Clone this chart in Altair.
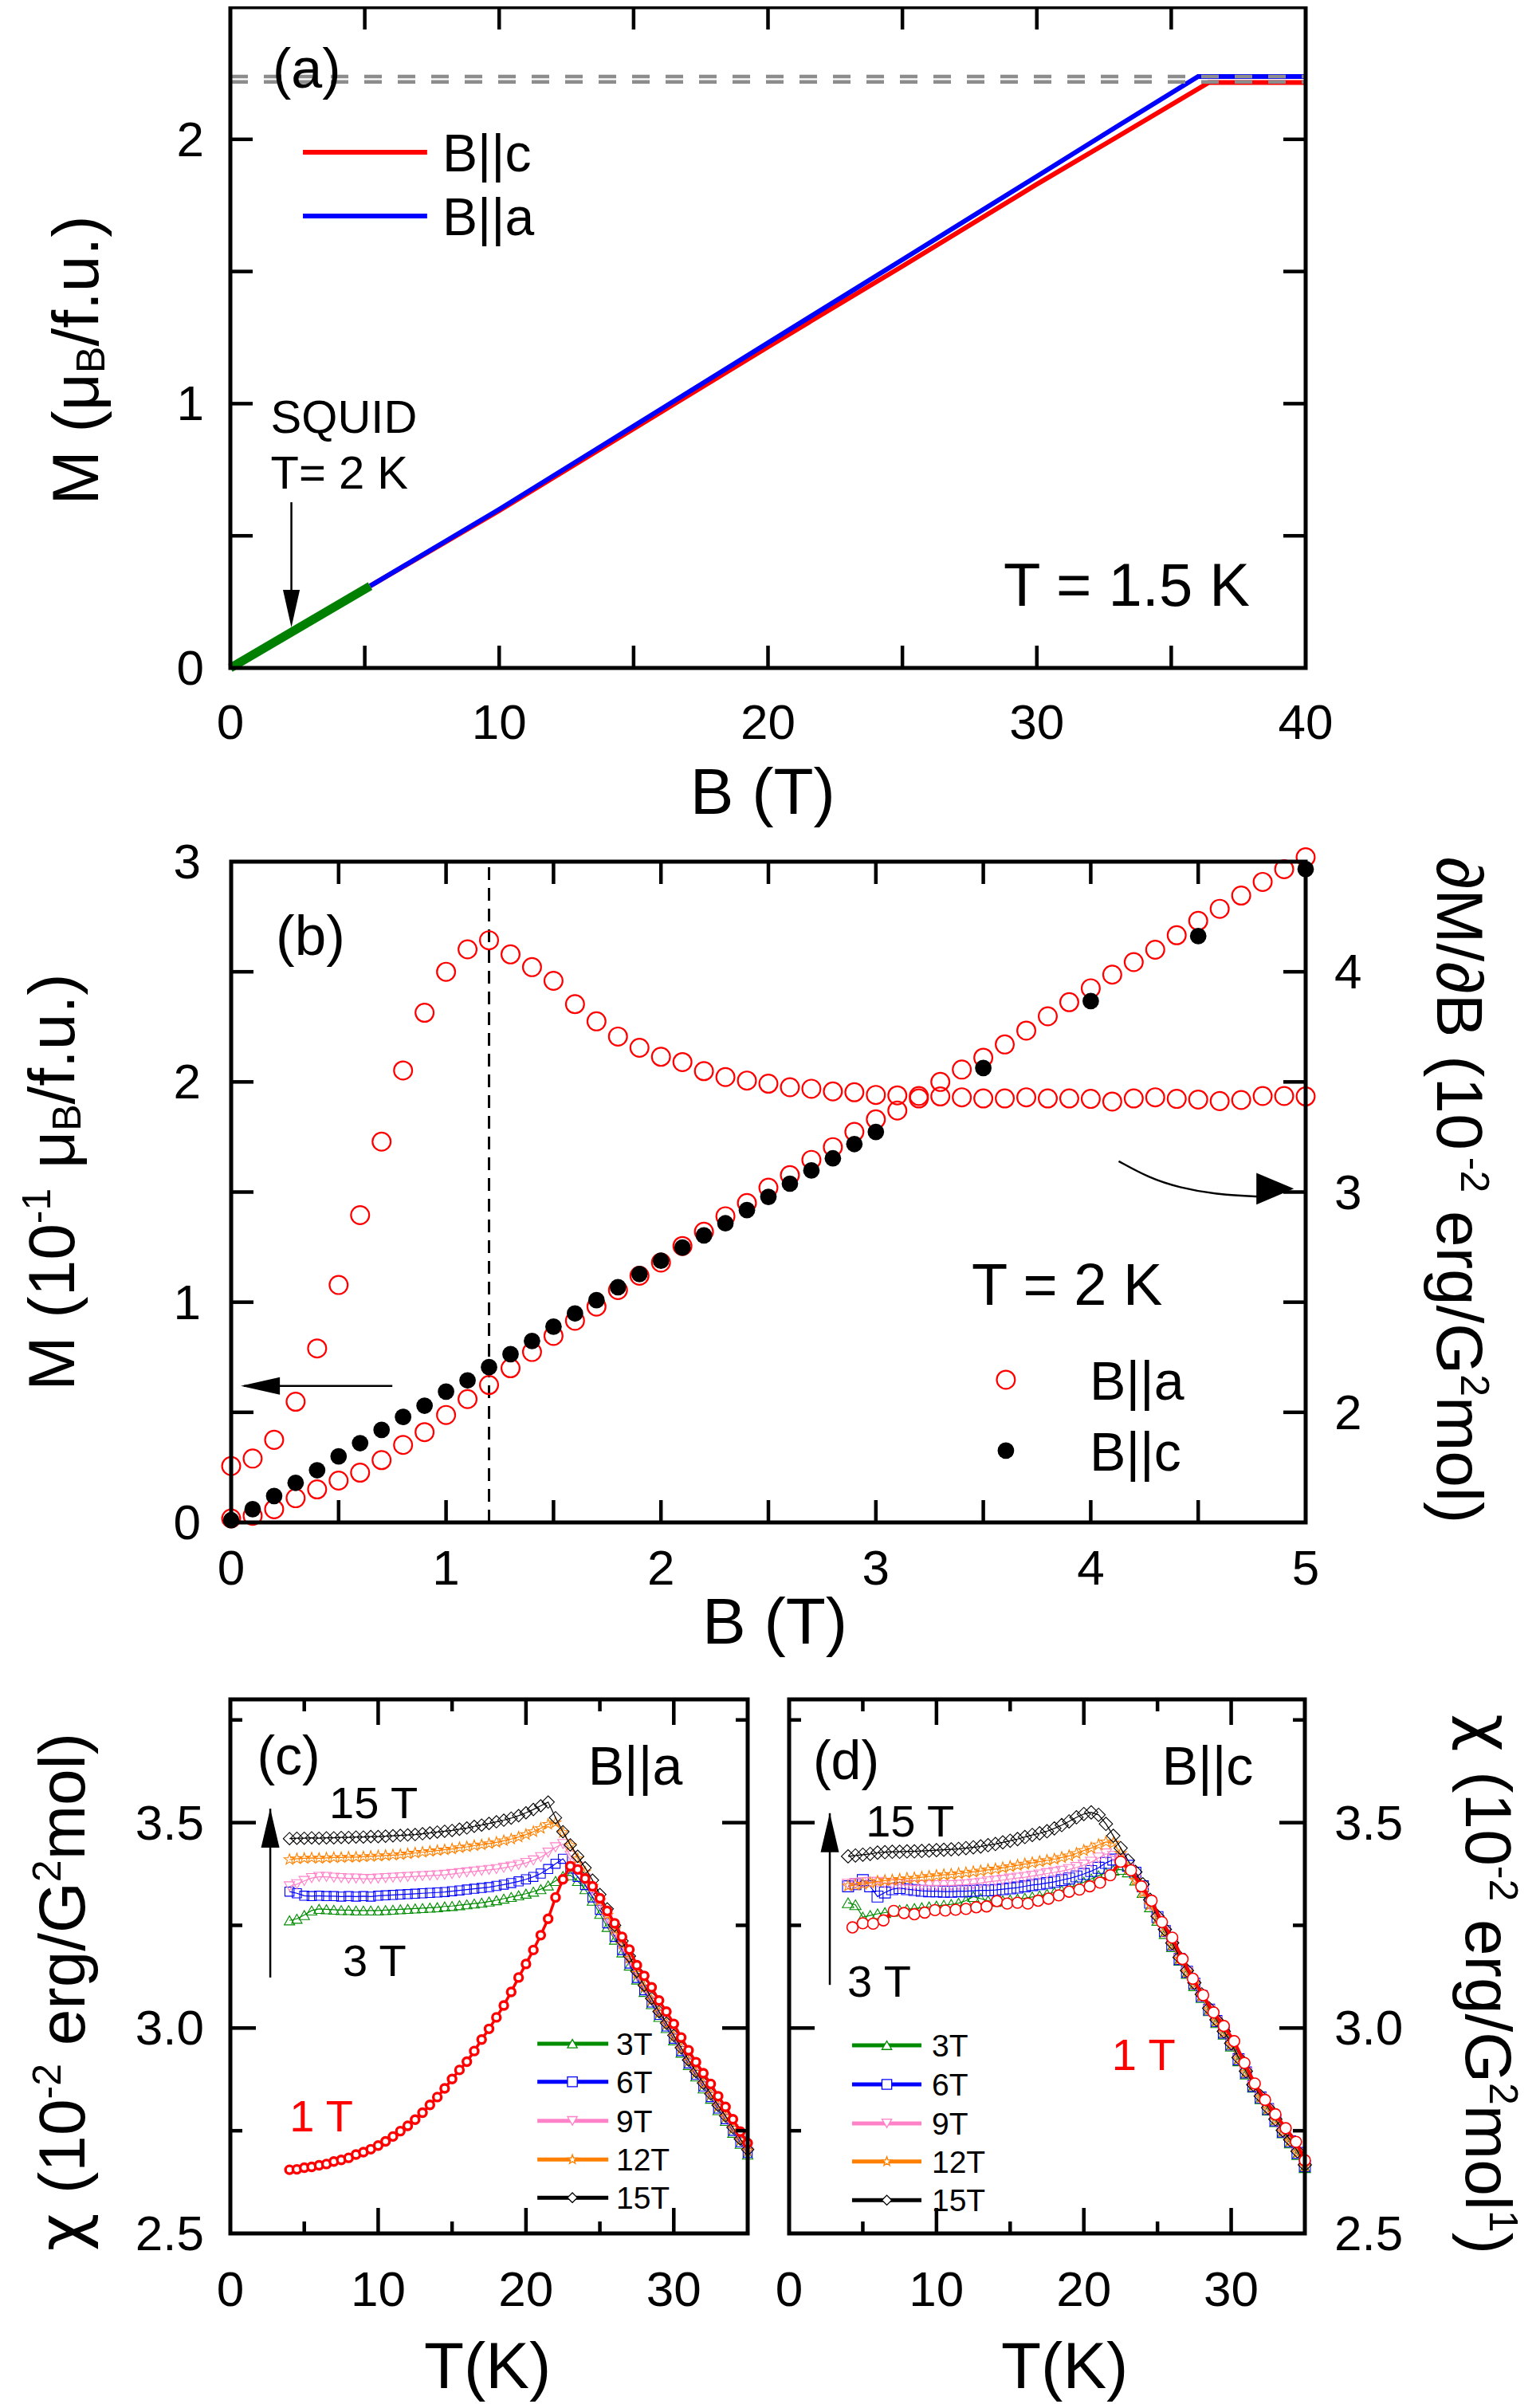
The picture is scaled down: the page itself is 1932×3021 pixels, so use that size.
import altair as alt
import pandas as pd

FONT = "Liberation Sans"

# ---------------- panel (a) data ----------------
A_BC_B = [5.2, 10, 15, 20, 25, 30, 33, 36.4, 40]
A_BC_M = [0.31, 0.595, 0.905, 1.215, 1.52, 1.83, 2.01, 2.215, 2.215]
A_BA_B = [5.2, 10, 15, 20, 25, 30, 33, 36.0, 40]
A_BA_M = [0.31, 0.60, 0.915, 1.23, 1.545, 1.86, 2.05, 2.238, 2.238]
A_SQ_B = [0, 5.2]
A_SQ_M = [0, 0.31]
A_SAT_M = [2.238, 2.217]
A_XTICKS = [5, 10, 15, 20, 25, 30, 35]
A_YTICKS = [0.5, 1, 1.5, 2]
A_XLAB = [0, 10, 20, 30, 40]
A_YLAB = [0, 1, 2]

# ---------------- panel (b) data ----------------
B_A_B = [0.0, 0.1, 0.2, 0.3, 0.4, 0.5, 0.6, 0.7, 0.8, 0.9, 1.0, 1.1, 1.2, 1.3, 1.4, 1.5, 1.6,
         1.7, 1.8, 1.9, 2.0, 2.1, 2.2, 2.3, 2.4, 2.5, 2.6, 2.7, 2.8, 2.9, 3.0, 3.1, 3.2, 3.3,
         3.4, 3.5, 3.6, 3.7, 3.8, 3.9, 4.0, 4.1, 4.2, 4.3, 4.4, 4.5, 4.6, 4.7, 4.8, 4.9, 5.0]
B_A_DMDB = [1.756, 1.79, 1.875, 2.048, 2.29, 2.578, 2.895, 3.229, 3.552, 3.814, 4.0, 4.102,
            4.143, 4.079, 4.021, 3.959, 3.853, 3.775, 3.706, 3.655, 3.614, 3.59, 3.549, 3.522,
            3.506, 3.492, 3.476, 3.469, 3.457, 3.453, 3.441, 3.439, 3.436, 3.434, 3.43, 3.425,
            3.425, 3.43, 3.425, 3.425, 3.423, 3.411, 3.425, 3.43, 3.423, 3.42, 3.413, 3.418,
            3.436, 3.436, 3.434]
B_A_M = [0.018, 0.03, 0.06, 0.11, 0.15, 0.19, 0.226, 0.283, 0.352, 0.41, 0.488, 0.56, 0.624,
         0.70, 0.774, 0.847, 0.916, 0.98, 1.055, 1.12, 1.18, 1.255, 1.32, 1.39, 1.45, 1.52,
         1.577, 1.646, 1.704, 1.773, 1.83, 1.87, 1.925, 2.0, 2.056, 2.11, 2.17, 2.233, 2.298,
         2.362, 2.425, 2.487, 2.544, 2.60, 2.666, 2.731, 2.786, 2.846, 2.908, 2.966, 3.02]
B_C_B = [0.0, 0.1, 0.2, 0.3, 0.4, 0.5, 0.6, 0.7, 0.8, 0.9, 1.0, 1.1, 1.2, 1.3, 1.4, 1.5, 1.6,
         1.7, 1.8, 1.9, 2.0, 2.1, 2.2, 2.3, 2.4, 2.5, 2.6, 2.7, 2.8, 2.9, 3.0, 3.5, 4.0, 4.5, 5.0]
B_C_M = [0.01, 0.06, 0.12, 0.18, 0.237, 0.30, 0.36, 0.42, 0.479, 0.53, 0.594, 0.645, 0.705,
         0.764, 0.824, 0.889, 0.949, 1.009, 1.068, 1.128, 1.188, 1.248, 1.303, 1.358, 1.418,
         1.478, 1.538, 1.598, 1.653, 1.718, 1.773, 2.063, 2.367, 2.662, 2.966]
B_XTICKS = [0.5, 1, 1.5, 2, 2.5, 3, 3.5, 4, 4.5]
B_YTICKS = [0.5, 1, 1.5, 2, 2.5]
B_RTICKS = [2, 2.5, 3, 3.5, 4]
B_XLAB = [0, 1, 2, 3, 4, 5]
B_YLAB = [0, 1, 2, 3]
B_RLAB = [2, 3, 4]

# ---------------- panels (c), (d) data ----------------
T_GRID = [4.0, 4.5, 5.0, 5.5, 6.0, 6.5, 7.0, 7.5, 8.0, 8.5, 9.0, 9.5, 10.0, 10.5, 11.0, 11.5,
          12.0, 12.5, 13.0, 13.5, 14.0, 14.5, 15.0, 15.5, 16.0, 16.5, 17.0, 17.5, 18.0, 18.5,
          19.0, 19.5, 20.0, 20.5, 21.0, 21.5, 22.0, 22.5, 23.0, 23.5, 24.0, 24.5, 25.0, 25.5,
          26.0, 26.5, 27.0, 27.5, 28.0, 28.5, 29.0, 29.5, 30.0, 30.5, 31.0, 31.5, 32.0, 32.5,
          33.0, 33.5, 34.0, 34.5, 35.0]

C_3T = [3.262,
        3.266, 3.275, 3.286, 3.290, 3.289, 3.288, 3.287, 3.287, 3.286, 3.286,
        3.286, 3.286, 3.287, 3.288, 3.289, 3.290, 3.291, 3.292, 3.293, 3.294,
        3.296, 3.297, 3.299, 3.301, 3.303, 3.305, 3.308, 3.311, 3.315, 3.319,
        3.323, 3.327, 3.332, 3.338, 3.347, 3.358, 3.370, 3.372, 3.358, 3.338,
        3.310, 3.278, 3.246, 3.215, 3.184, 3.152, 3.118, 3.088, 3.058, 3.027,
        3.000, 2.970, 2.940, 2.910, 2.882, 2.853, 2.828, 2.800, 2.774, 2.745,
        2.718, 2.692]
C_6T = [3.332,
        3.328, 3.322, 3.321, 3.322, 3.321, 3.321, 3.320, 3.321, 3.320, 3.321,
        3.320, 3.322, 3.323, 3.324, 3.325, 3.326, 3.327, 3.328, 3.329, 3.330,
        3.331, 3.333, 3.335, 3.337, 3.339, 3.341, 3.343, 3.346, 3.349, 3.353,
        3.357, 3.362, 3.368, 3.376, 3.387, 3.400, 3.412, 3.388, 3.368, 3.348,
        3.318, 3.288, 3.255, 3.222, 3.190, 3.157, 3.122, 3.092, 3.062, 3.032,
        3.004, 2.974, 2.944, 2.914, 2.886, 2.858, 2.832, 2.804, 2.778, 2.750,
        2.722, 2.696]
C_9T = [3.345,
        3.350, 3.358, 3.365, 3.368, 3.368, 3.366, 3.365, 3.364, 3.364, 3.363,
        3.363, 3.364, 3.365, 3.366, 3.367, 3.368, 3.369, 3.370, 3.371, 3.372,
        3.373, 3.375, 3.377, 3.379, 3.381, 3.383, 3.385, 3.387, 3.390, 3.393,
        3.397, 3.402, 3.408, 3.416, 3.427, 3.440, 3.448, 3.420, 3.393, 3.364,
        3.333, 3.300, 3.265, 3.230, 3.196, 3.162, 3.127, 3.095, 3.066, 3.035,
        3.008, 2.977, 2.948, 2.917, 2.889, 2.862, 2.835, 2.808, 2.780, 2.754,
        2.725, 2.699]
C_12T = [3.410,
         3.412, 3.413, 3.414, 3.413, 3.414, 3.415, 3.415, 3.416, 3.416, 3.417,
         3.418, 3.419, 3.420, 3.421, 3.422, 3.424, 3.426, 3.428, 3.430, 3.432,
         3.434, 3.436, 3.439, 3.441, 3.444, 3.446, 3.449, 3.452, 3.456, 3.460,
         3.465, 3.471, 3.478, 3.486, 3.496, 3.500, 3.476, 3.445, 3.412, 3.380,
         3.345, 3.310, 3.275, 3.240, 3.205, 3.170, 3.133, 3.100, 3.068, 3.038,
         3.010, 2.980, 2.950, 2.920, 2.892, 2.864, 2.838, 2.810, 2.784, 2.756,
         2.728, 2.702]
C_15T = [3.461,
         3.462, 3.462, 3.463, 3.462, 3.463, 3.463, 3.464, 3.464, 3.465, 3.465,
         3.466, 3.466, 3.467, 3.468, 3.469, 3.470, 3.471, 3.473, 3.475, 3.477,
         3.479, 3.481, 3.484, 3.487, 3.491, 3.494, 3.498, 3.502, 3.506, 3.511,
         3.517, 3.524, 3.532, 3.541, 3.550, 3.512, 3.478, 3.446, 3.418, 3.390,
         3.360, 3.325, 3.290, 3.250, 3.212, 3.175, 3.138, 3.104, 3.072, 3.040,
         3.012, 2.982, 2.952, 2.922, 2.894, 2.866, 2.840, 2.812, 2.786, 2.758,
         2.730, 2.704]
C_1T = [2.655,
        2.656, 2.660, 2.662, 2.666, 2.669, 2.675, 2.679, 2.684, 2.692, 2.698,
        2.705, 2.714, 2.724, 2.736, 2.749, 2.762, 2.777, 2.794, 2.813, 2.832,
        2.853, 2.876, 2.898, 2.918, 2.944, 2.972, 2.998, 3.026, 3.055, 3.088,
        3.123, 3.156, 3.190, 3.226, 3.266, 3.318, 3.362, 3.394, 3.386, 3.364,
        3.345, 3.316, 3.285, 3.255, 3.222, 3.191, 3.153, 3.127, 3.099, 3.067,
        3.040, 3.010, 2.977, 2.946, 2.917, 2.890, 2.864, 2.834, 2.808, 2.778,
        2.748, 2.720]

D_3T = [3.305, 3.300, 3.270, 3.274, 3.278, 3.281, 3.284, 3.287, 3.289, 3.291, 3.293,
        3.295, 3.297, 3.299, 3.301, 3.304, 3.310, 3.320, 3.315, 3.310, 3.308,
        3.310, 3.312, 3.314, 3.316, 3.319, 3.322, 3.326, 3.330, 3.335, 3.341,
        3.348, 3.355, 3.363, 3.371, 3.378, 3.384, 3.386, 3.380, 3.360, 3.330,
        3.295, 3.262, 3.230, 3.198, 3.165, 3.133, 3.103, 3.074, 3.042, 3.013,
        2.985, 2.956, 2.920, 2.888, 2.856, 2.828, 2.800, 2.772, 2.745, 2.720,
        2.692, 2.660]
D_6T = [3.345, 3.350, 3.360, 3.345, 3.320, 3.330, 3.338, 3.341, 3.338, 3.336, 3.334,
        3.333, 3.333, 3.332, 3.332, 3.333, 3.333, 3.334, 3.335, 3.335, 3.336,
        3.338, 3.340, 3.342, 3.345, 3.348, 3.350, 3.353, 3.356, 3.360, 3.364,
        3.369, 3.375, 3.382, 3.390, 3.402, 3.410, 3.410, 3.395, 3.378, 3.345,
        3.305, 3.270, 3.236, 3.203, 3.168, 3.137, 3.108, 3.078, 3.045, 3.017,
        2.989, 2.960, 2.924, 2.892, 2.859, 2.831, 2.803, 2.775, 2.748, 2.724,
        2.696, 2.664]
D_9T = [3.350, 3.352, 3.354, 3.355, 3.355, 3.353, 3.351, 3.349, 3.348, 3.347, 3.347,
        3.347, 3.347, 3.347, 3.347, 3.348, 3.349, 3.351, 3.353, 3.356, 3.358,
        3.360, 3.363, 3.365, 3.367, 3.370, 3.373, 3.376, 3.379, 3.382, 3.386,
        3.391, 3.397, 3.404, 3.414, 3.424, 3.418, 3.410, 3.390, 3.362, 3.332,
        3.298, 3.264, 3.233, 3.201, 3.167, 3.135, 3.106, 3.077, 3.044, 3.016,
        2.988, 2.959, 2.923, 2.891, 2.858, 2.830, 2.802, 2.774, 2.747, 2.723,
        2.695, 2.663]
D_12T = [3.346, 3.348, 3.350, 3.353, 3.357, 3.359, 3.360, 3.362, 3.364, 3.365, 3.367,
         3.369, 3.371, 3.373, 3.374, 3.376, 3.378, 3.380, 3.382, 3.385, 3.387,
         3.390, 3.393, 3.396, 3.399, 3.402, 3.405, 3.408, 3.411, 3.415, 3.419,
         3.425, 3.432, 3.438, 3.446, 3.453, 3.450, 3.425, 3.390, 3.360, 3.330,
         3.300, 3.266, 3.234, 3.202, 3.168, 3.136, 3.107, 3.078, 3.045, 3.017,
         2.989, 2.960, 2.925, 2.892, 2.860, 2.831, 2.803, 2.776, 2.748, 2.725,
         2.697, 2.664]
D_15T = [3.418, 3.420, 3.422, 3.424, 3.427, 3.428, 3.429, 3.429, 3.430, 3.430, 3.431,
         3.432, 3.433, 3.434, 3.435, 3.436, 3.438, 3.440, 3.442, 3.445, 3.448,
         3.452, 3.456, 3.460, 3.465, 3.470, 3.474, 3.479, 3.486, 3.494, 3.503,
         3.513, 3.521, 3.525, 3.519, 3.497, 3.468, 3.438, 3.408, 3.380, 3.350,
         3.312, 3.272, 3.240, 3.207, 3.172, 3.140, 3.110, 3.082, 3.048, 3.020,
         2.992, 2.963, 2.928, 2.895, 2.862, 2.834, 2.806, 2.778, 2.751, 2.728,
         2.700, 2.667]
D_1T_T = [4.3, 5.0, 5.7, 6.4, 7.1, 7.8, 8.5, 9.2, 9.9, 10.6, 11.3, 12.0, 12.7, 13.4, 14.1,
          14.8, 15.5, 16.2, 16.9, 17.6, 18.3, 19.0, 19.7, 20.4, 21.1, 21.8, 22.5, 23.2, 23.9,
          24.6, 25.3, 26.0, 26.7, 27.4, 28.1, 28.8, 29.5, 30.2, 30.9, 31.6, 32.3, 33.0, 33.7,
          34.4, 35.0]
D_1T = [3.245, 3.255, 3.254, 3.262, 3.285, 3.280, 3.277, 3.281, 3.287, 3.286,
        3.288, 3.290, 3.294, 3.296, 3.309, 3.303, 3.305, 3.303, 3.310, 3.315,
        3.323, 3.332, 3.337, 3.345, 3.354, 3.372, 3.405, 3.384, 3.345, 3.310,
        3.258, 3.220, 3.168, 3.120, 3.080, 3.038, 3.005, 2.968, 2.915, 2.865,
        2.825, 2.790, 2.756, 2.723, 2.678]

CD_XMAJ = [10, 20, 30]
CD_XMIN = [5, 15, 25]
CD_YMAJ = [3.0, 3.5]
CD_YMIN = [2.75, 3.25, 3.75]
CD_XLAB = [0, 10, 20, 30]
CD_YLAB = [2.5, 3.0, 3.5]
FIELD_NAMES = ["3T", "6T", "9T", "12T", "15T"]
FIELD_COLORS = ["#008c00", "#0000ff", "#ff82c8", "#ff8000", "#000000"]
STAR = ("M0,-1L0.235,-0.324L0.951,-0.309L0.380,0.124L0.588,0.809L0,0.4L-0.588,0.809"
        "L-0.380,0.124L-0.951,-0.309L-0.235,-0.324Z")
FIELD_SHAPES = ["triangle-up", "square", "triangle-down", STAR, "diamond"]

# ---------------- layout (chart pixel ranges of each panel) ----------------
PAN = {
    "a":  {"xd": [0, 40], "xr": [281, 1630], "yd": [0, 2.5], "yr": [830, 1]},
    "b":  {"xd": [0, 5], "xr": [282, 1630], "yd": [0, 3], "yr": [1902, 1073]},
    "bR": {"xd": [0, 5], "xr": [282, 1630], "yd": [1.5, 4.5], "yr": [1902, 1073]},
    "c":  {"xd": [0, 35], "xr": [281, 930], "yd": [2.5, 3.8], "yr": [2794, 2124]},
    "d":  {"xd": [0, 35], "xr": [982, 1629], "yd": [2.5, 3.8], "yr": [2794, 2124]},
}
TW = 4.5
layers = []


def S(p, ax):
    d = PAN[p]
    return alt.Scale(domain=d[ax + "d"], range=d[ax + "r"], nice=False, zero=False)


def XY(p):
    return {"x": alt.X("x:Q", scale=S(p, "x"), axis=None),
            "y": alt.Y("y:Q", scale=S(p, "y"), axis=None)}


def add_line(p, xs, ys, **kw):
    df = pd.DataFrame({"x": xs, "y": ys, "i": list(range(len(xs)))})
    layers.append(alt.Chart(df).mark_line(**kw).encode(**XY(p), order="i:Q"))


def add_points(p, xs, ys, **kw):
    kw.setdefault("opacity", 1)
    df = pd.DataFrame({"x": xs, "y": ys})
    layers.append(alt.Chart(df).mark_point(**kw).encode(**XY(p)))


def add_text(p, xs, ys, texts, size, **kw):
    kw.setdefault("baseline", "alphabetic")
    kw.setdefault("font", FONT)
    df = pd.DataFrame({"x": xs, "y": ys, "t": texts})
    layers.append(alt.Chart(df).mark_text(fontSize=size, **kw)
                  .encode(**XY(p), text="t:N"))


def add_hrule(p, x1, x2, ys, **kw):
    df = pd.DataFrame({"x": [x1] * len(ys), "x2": [x2] * len(ys), "y": ys})
    layers.append(alt.Chart(df).mark_rule(**kw).encode(**XY(p), x2=alt.X2("x2")))


def add_vrule(p, xs, y1, y2, **kw):
    df = pd.DataFrame({"x": xs, "y": [y1] * len(xs), "y2": [y2] * len(xs)})
    layers.append(alt.Chart(df).mark_rule(**kw).encode(**XY(p), y2=alt.Y2("y2")))


def add_xticks(p, vals, edge, L):
    df = pd.DataFrame({"x": vals, "y": [edge] * len(vals)})
    layers.append(alt.Chart(df).mark_rule(color="black", strokeWidth=TW, y2Offset=L)
                  .encode(**XY(p), y2=alt.Y2("y")))


def add_yticks(p, vals, edge, L):
    df = pd.DataFrame({"x": [edge] * len(vals), "y": vals})
    layers.append(alt.Chart(df).mark_rule(color="black", strokeWidth=TW, x2Offset=L)
                  .encode(**XY(p), x2=alt.X2("x")))


def add_frame(p):
    d = PAN[p]
    df = pd.DataFrame({"x": [d["xd"][0]], "x2": [d["xd"][1]],
                       "y": [d["yd"][0]], "y2": [d["yd"][1]]})
    layers.append(alt.Chart(df).mark_rect(fillOpacity=0, stroke="black", strokeWidth=5)
                  .encode(**XY(p), x2=alt.X2("x2"), y2=alt.Y2("y2")))


def add_head(p, x, y, path, size):
    add_points(p, [x], [y], shape=path, size=size, filled=True, color="black", strokeWidth=0)


EM = {" ": 0.278, "(": 0.333, ")": 0.333, "/": 0.278, ".": 0.278, "-": 0.333,
      "M": 0.833, "B": 0.667, "G": 0.778, "a": 0.556, "e": 0.556, "r": 0.333,
      "g": 0.556, "m": 0.833, "o": 0.556, "l": 0.222, "f": 0.278, "u": 0.556,
      "μ": 0.576, "χ": 0.6, "∂": 0.549}
TFS, SFS = 82, 50


def tw(s, fs):
    return sum(EM.get(ch, 0.556) for ch in s) * fs


def add_rot_title(p, x, yc, pieces, angle, base):
    items = []
    for t, k in pieces:
        if k == "gap":
            items.append((None, k, t * TFS))
        else:
            items.append((t, k, tw(t, TFS if k == "n" else SFS)))
    L = sum(w for _, _, w in items)
    cum = 0.0
    for t, k, w in items:
        if t is not None:
            fs = TFS if k == "n" else SFS
            shift = {"n": 0, "sup": -30, "sub": 8}[k]
            if angle == 270:
                xo, yo = base + shift, L / 2 - cum
            else:
                xo, yo = base - shift, -L / 2 + cum
            fnt = "DejaVu Sans" if t == "χ" else FONT
            df = pd.DataFrame({"x": [x], "y": [yc], "t": [t]})
            layers.append(alt.Chart(df).mark_text(font=fnt, fontSize=fs, angle=angle,
                                                  align="left", baseline="alphabetic",
                                                  xOffset=xo, yOffset=yo)
                          .encode(**XY(p), text="t:N"))
        cum += w


HEAD_DOWN = "M-0.45,-2L0.45,-2L0,0Z"
HEAD_UP = "M-0.47,2L0.47,2L0,0Z"
HEAD_LEFT = "M0,0L2,-0.45L2,0.45Z"
HEAD_RIGHT = "M0,0L-2,-0.85L-2,0.85Z"

# ======================= panel (a) =======================
add_line("a", A_BC_B, A_BC_M, color="#ff0000", strokeWidth=6)
add_line("a", A_BA_B, A_BA_M, color="#0000ff", strokeWidth=6)
add_line("a", A_SQ_B, A_SQ_M, color="#008000", strokeWidth=11)
add_hrule("a", 0, 40, A_SAT_M, color="#8c8c8c", strokeWidth=4.5, strokeDash=[22, 20])
add_hrule("a", 2.7, 7.32, [1.951], color="#ff0000", strokeWidth=6)
add_hrule("a", 2.7, 7.32, [1.71], color="#0000ff", strokeWidth=6)
add_text("a", [7.89, 7.89], [1.951, 1.71], ["B||c", "B||a"], 66, align="left", dy=24)
add_text("a", [1.57], [2.195], ["(a)"], 70, align="left")
add_text("a", [1.5, 1.5], [0.89, 0.679], ["SQUID", "T= 2 K"], 58, align="left")
add_line("a", [2.27, 2.27], [0.627, 0.2], color="black", strokeWidth=2.5)
add_head("a", 2.27, 0.154, HEAD_DOWN, 2209)
add_text("a", [28.76], [0.235], ["T = 1.5 K"], 76, align="left")
add_xticks("a", A_XTICKS, 0, -28)
add_xticks("a", A_XTICKS, 2.5, 28)
add_yticks("a", A_YTICKS, 0, 28)
add_yticks("a", A_YTICKS, 40, -28)
add_frame("a")
add_text("a", A_XLAB, [0] * len(A_XLAB), [str(v) for v in A_XLAB], 62, align="center", dy=89)
add_text("a", [0] * len(A_YLAB), A_YLAB, [str(v) for v in A_YLAB], 62, align="right", dx=-33, dy=21)
add_rot_title("a", 0, 1.164, [("M (μ", "n"), ("B", "sub"), ("/f.u.)", "n")], 270, -166)
add_text("a", [19.8], [0], ["B (T)"], 82, align="center", dy=183)

# ======================= panel (b) =======================
add_vrule("b", [1.2], 0, 3, color="black", strokeWidth=3, strokeDash=[16, 10])
add_points("bR", B_A_B, B_A_DMDB, shape="circle", size=520, color="#ff0000", strokeWidth=2.2, filled=False)
add_points("b", B_A_B, B_A_M, shape="circle", size=520, color="#ff0000", strokeWidth=2.2, filled=False)
add_points("b", B_C_B, B_C_M, shape="circle", size=430, color="black", filled=True)
add_line("b", [0.06, 0.75], [0.62, 0.62], color="black", strokeWidth=2.5)
add_head("b", 0.045, 0.62, HEAD_LEFT, 2401)
add_line("b", [4.13, 4.27, 4.41, 4.59, 4.8], [1.64, 1.565, 1.52, 1.488, 1.478],
         color="black", strokeWidth=2.5, interpolate="basis")
add_head("b", 4.945, 1.515, HEAD_RIGHT, 2209)
add_text("b", [0.208], [2.577], ["(b)"], 71, align="left")
add_text("b", [3.446], [0.988], ["T = 2 K"], 74, align="left")
add_points("b", [3.605], [0.648], shape="circle", size=520, color="#ff0000", strokeWidth=2.2, filled=False)
add_points("b", [3.605], [0.326], shape="circle", size=430, color="black", filled=True)
add_text("b", [3.995, 3.995], [0.648, 0.326], ["B||a", "B||c"], 68, align="left", dy=25)
add_xticks("b", B_XTICKS, 0, -28)
add_xticks("b", B_XTICKS, 3, 28)
add_yticks("b", B_YTICKS, 0, 28)
add_yticks("bR", B_RTICKS, 5, -28)
add_frame("b")
add_text("b", B_XLAB, [0] * len(B_XLAB), [str(v) for v in B_XLAB], 62, align="center", dy=78)
add_text("b", [0] * len(B_YLAB), B_YLAB, [str(v) for v in B_YLAB], 62, align="right", dx=-38, dy=21)
add_text("bR", [5] * len(B_RLAB), B_RLAB, [str(v) for v in B_RLAB], 62, align="left", dx=36, dy=21)
add_rot_title("b", 0, 1.545, [("M (10", "n"), ("-1", "sup"), (0.3, "gap"), ("μ", "n"),
                              ("B", "sub"), ("/f.u.)", "n")], 270, -197)
add_rot_title("bR", 5, 3.009, [("∂M/∂B (10", "n"), ("-2", "sup"), (0.278, "gap"), ("erg/G", "n"),
                               ("2", "sup"), ("mol)", "n")], 90, 165)
add_text("b", [2.53], [0], ["B (T)"], 82, align="center", dy=152)


# ======================= panels (c), (d) =======================
def chi_panel(p, fields, red_t, red_v, red_size, red_sw, red_lw, msize, leg, texts, arrow_x,
              arrow_y, right_side):
    for vals, col, shp, ms in zip(fields, FIELD_COLORS, FIELD_SHAPES, msize):
        add_line(p, T_GRID, vals, color=col, strokeWidth=1.2)
        add_points(p, T_GRID, vals, shape=shp, size=ms, color=col, strokeWidth=1.1, filled=False)
    add_line(p, red_t, red_v, color="#ff0000", strokeWidth=red_lw)
    add_points(p, red_t, red_v, shape="circle", size=red_size, filled=True, fill="white",
               stroke="#ff0000", strokeWidth=red_sw)
    # legend
    lx1, lx2, lm, lt, lys = leg
    for name, col, shp, ly in zip(FIELD_NAMES, FIELD_COLORS, FIELD_SHAPES, lys):
        add_hrule(p, lx1, lx2, [ly], color=col, strokeWidth=5)
        add_points(p, [lm], [ly], shape=shp, size=150, filled=True, fill="white",
                   stroke=col, strokeWidth=1.3)
    add_text(p, [lt] * 5, lys, FIELD_NAMES, 39, align="left", dy=14)
    for (tx, ty, s, fs, col) in texts:
        add_text(p, [tx], [ty], [s], fs, align="left", color=col)
    add_line(p, [arrow_x, arrow_x], arrow_y, color="black", strokeWidth=2.5)
    add_head(p, arrow_x, arrow_y[1], HEAD_UP, 2401)
    # ticks + frame
    add_xticks(p, CD_XMAJ, 2.5, -32)
    add_xticks(p, CD_XMIN, 2.5, -15)
    add_xticks(p, CD_XMAJ, 3.8, 32)
    add_xticks(p, CD_XMIN, 3.8, 15)
    add_yticks(p, CD_YMAJ, 0, 32)
    add_yticks(p, CD_YMIN, 0, 15)
    add_yticks(p, CD_YMAJ, 35, -32)
    add_yticks(p, CD_YMIN, 35, -15)
    add_frame(p)
    add_text(p, CD_XLAB, [2.5] * len(CD_XLAB), [str(v) for v in CD_XLAB], 62, align="center", dy=91)
    lab = ["%.1f" % v for v in CD_YLAB]
    if right_side:
        add_text(p, [35] * 3, CD_YLAB, lab, 62, align="left", dx=37, dy=21)
    else:
        add_text(p, [0] * 3, CD_YLAB, lab, 62, align="right", dx=-33, dy=21)


chi_panel("c", [C_3T, C_6T, C_9T, C_12T, C_15T], T_GRID, C_1T, 100, 3.4, 3.5,
          [170, 130, 170, 200, 240],
          (20.77, 25.57, 23.14, 26.1, [2.962, 2.869, 2.774, 2.680, 2.587]),
          [(1.8, 3.618, "(c)", 68, "black"), (6.69, 3.511, "15 T", 56, "black"),
           (7.6, 3.127, "3 T", 56, "black"), (24.2, 3.592, "B||a", 68, "black"),
           (4.0, 2.748, "1 T", 56, "#ff0000")],
          2.7, [3.123, 3.534], False)
add_rot_title("c", 0, 3.088, [("χ", "n"), (0.278, "gap"), ("(10", "n"), ("-2", "sup"),
                              (0.278, "gap"), ("erg/G", "n"), ("2", "sup"), ("mol)", "n")],
              270, -183)
add_text("c", [17.4], [2.5], ["T(K)"], 82, align="center", dy=194)

chi_panel("d", [D_3T, D_6T, D_9T, D_12T, D_15T], D_1T_T, D_1T, 190, 1.6, 4,
          [200, 190, 200, 220, 280],
          (4.27, 8.98, 6.63, 9.68, [2.958, 2.863, 2.768, 2.675, 2.581]),
          [(1.62, 3.606, "(d)", 68, "black"), (5.2, 3.466, "15 T", 56, "black"),
           (3.95, 3.076, "3 T", 56, "black"), (25.3, 3.592, "B||c", 68, "black"),
           (21.9, 2.898, "1 T", 56, "#ff0000")],
          2.76, [3.105, 3.523], True)
add_rot_title("d", 35, 3.107, [("χ", "n"), (0.278, "gap"), ("(10", "n"), ("-2", "sup"),
                               (0.278, "gap"), ("erg/G", "n"), ("2", "sup"), ("mol", "n"),
                               ("1", "sup"), (")", "n")], 90, 202)
add_text("d", [18.7], [2.5], ["T(K)"], 82, align="center", dy=194)

chart = (alt.layer(*layers)
         .resolve_scale(x="independent", y="independent")
         .properties(width=1916, height=3005, padding=0,
                     autosize=alt.AutoSizeParams(type="none"))
         .configure_view(stroke=None))

chart.save("out.html", embed_options={"renderer": "svg", "actions": False})
